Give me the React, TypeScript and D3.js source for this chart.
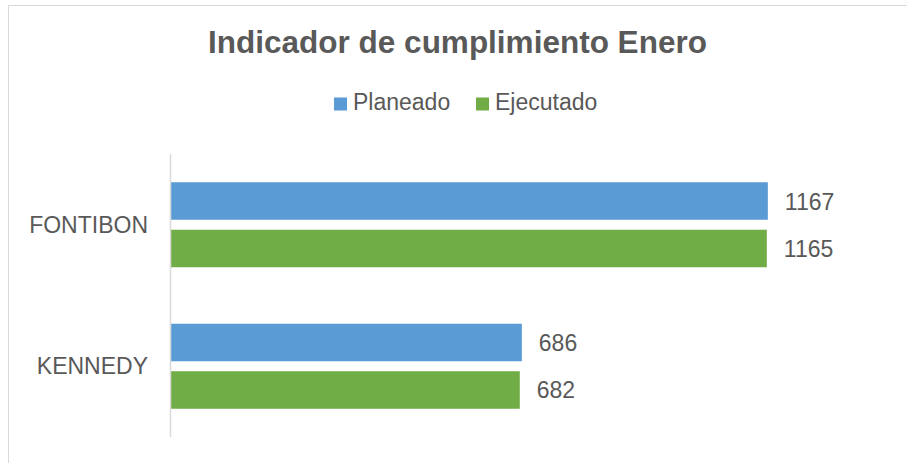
import React from "react";
import * as d3 from "d3";

const categories = ["FONTIBON", "KENNEDY"];
const seriesNames = ["Planeado", "Ejecutado"];
const planeado = [1167, 686];
const ejecutado = [1165, 682];
const seriesColors = ["#5B9BD5", "#70AD47"];
const title = "Indicador de cumplimiento Enero";

const W = 907;
const H = 463;
const FONT = "'Liberation Sans', Arial, sans-serif";
const TEXT = "#595959";

export default function App() {
  const values = [planeado, ejecutado];
  const x = d3.scaleLinear().domain([0, 1400]).range([171, 887]);
  const y = d3.scaleBand<string>().domain(categories).range([154, 437]).padding(0);
  const inner = d3
    .scaleBand<string>()
    .domain(seriesNames)
    .range([28.25, 113.25])
    .paddingInner(0.21)
    .paddingOuter(0);

  const legendX = [334, 476];

  return (
    <svg
      width={W}
      height={H}
      style={{ position: "absolute", left: 0, top: 0, background: "#fff" }}
      fontFamily={FONT}
    >
      <rect x={8.5} y={5.5} width={1200} height={1200} fill="#fff" stroke="#D9D9D9" strokeWidth={1} />
      <text x={457.5} y={53} textAnchor="middle" fontSize={31.5} fontWeight="bold" fill={TEXT}>
        {title}
      </text>
      {seriesNames.map((s, i) => (
        <g key={s}>
          <rect x={legendX[i]} y={97.5} width={13} height={13} fill={seriesColors[i]} />
          <text x={legendX[i] + 19} y={110} fontSize={23} fill={TEXT}>
            {s}
          </text>
        </g>
      ))}
      {categories.map((c, ci) => (
        <g key={c}>
          <text
            x={148}
            y={(y(c) as number) + y.bandwidth() / 2 + 8}
            textAnchor="end"
            fontSize={23}
            fill={TEXT}
          >
            {c}
          </text>
          {seriesNames.map((s, si) => {
            const v = values[si][ci];
            const by = (y(c) as number) + (inner(s) as number);
            const bh = inner.bandwidth();
            return (
              <g key={s}>
                <rect x={x(0)} y={by} width={x(v) - x(0)} height={bh} fill={seriesColors[si]} />
                <text x={x(v) + 17} y={by + bh / 2 + 8.5} fontSize={23} fill={TEXT}>
                  {v}
                </text>
              </g>
            );
          })}
        </g>
      ))}
      <line x1={170.5} x2={170.5} y1={154} y2={437} stroke="#D9D9D9" strokeWidth={1.5} />
    </svg>
  );
}
